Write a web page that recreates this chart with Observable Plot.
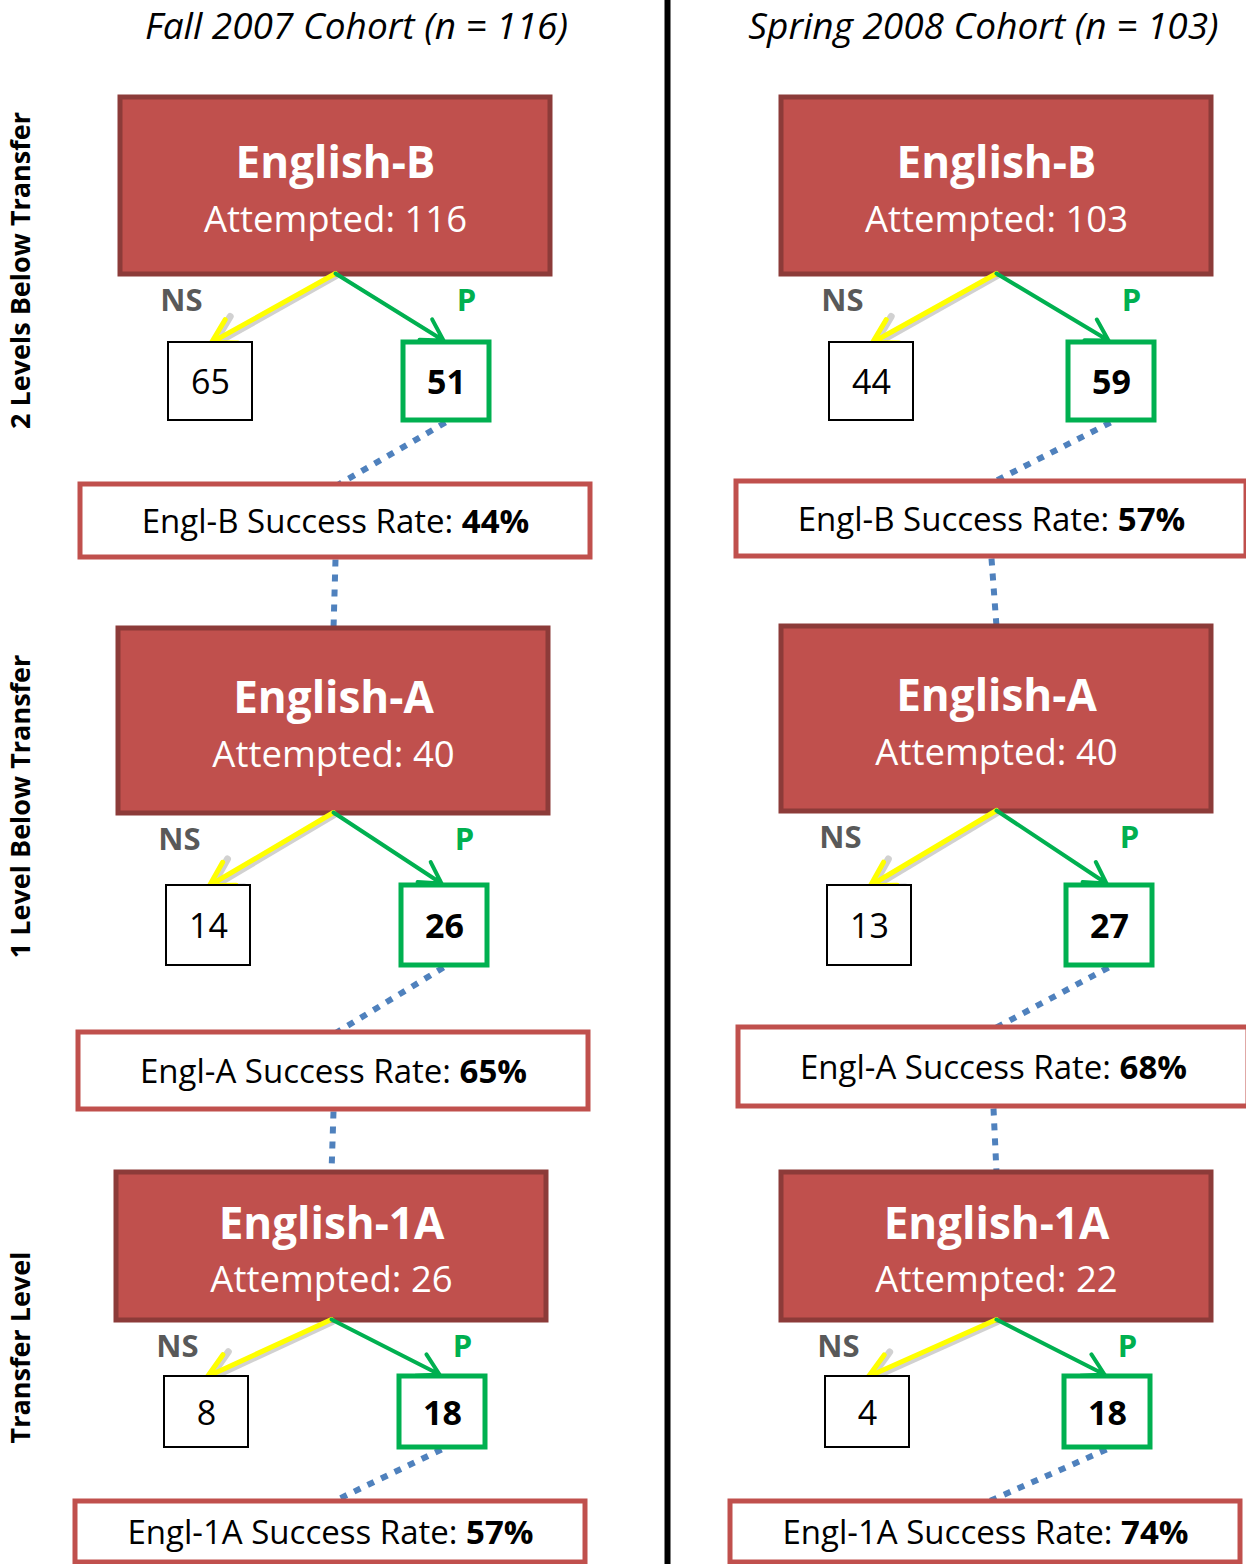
<!DOCTYPE html>
<html>
<head>
<meta charset="utf-8">
<script src="https://cdn.jsdelivr.net/npm/d3@7"></script>
<script src="https://cdn.jsdelivr.net/npm/@observablehq/plot@0.6"></script>
<style>
  html, body { margin: 0; padding: 0; background: white; }
  #chart svg { display: block; }
</style>
</head>
<body>
<div id="chart"></div>
<script>
// ---------- DATA ----------
const cohorts = ["Fall 2007 Cohort (n = 116)", "Spring 2008 Cohort (n = 103)"];
const levels = ["2 Levels Below Transfer", "1 Level Below Transfer", "Transfer Level"];
const courses = ["English-B", "English-A", "English-1A"];
const shortCourses = ["Engl-B", "Engl-A", "Engl-1A"];
const fallAttempted = [116, 40, 26];
const springAttempted = [103, 40, 22];
const fallNotSuccessful = [65, 14, 8];
const springNotSuccessful = [44, 13, 4];
const fallPassed = [51, 26, 18];
const springPassed = [59, 27, 18];
const fallRate = [44, 65, 57];
const springRate = [57, 68, 74];

// ---------- LAYOUT (diagram geometry, separate from data) ----------
const W = 1246, H = 1564;
const layout = [
  [ // left column
    {cx: 335, sCx: 335, top: 97,   bot: 274,  sTop: 342,  sBot: 420,  rTop: 484,  rBot: 557,  rCx: 335},
    {cx: 333, sCx: 333, top: 628,  bot: 813,  sTop: 885,  sBot: 965,  rTop: 1032, rBot: 1109, rCx: 333},
    {cx: 331, sCx: 331, top: 1172, bot: 1320, sTop: 1376, sBot: 1447, rTop: 1501, rBot: 1562, rCx: 330}
  ],
  [ // right column
    {cx: 996, sCx: 996, top: 97,   bot: 274,  sTop: 342,  sBot: 420,  rTop: 481,  rBot: 556,  rCx: 991},
    {cx: 996, sCx: 994, top: 626,  bot: 811,  sTop: 885,  sBot: 965,  rTop: 1027, rBot: 1106, rCx: 993},
    {cx: 996, sCx: 992, top: 1172, bot: 1320, sTop: 1376, sBot: 1447, rTop: 1501, rBot: 1562, rCx: 985}
  ]
];
const titleX = [356, 983];
const levelY = [270, 806, 1347];
const boxHalfW = 215, rateHalfW = 255;
const nsOff = [-167, -83], pOff = [68, 154];

const series = [
  {attempted: fallAttempted, ns: fallNotSuccessful, p: fallPassed, rate: fallRate},
  {attempted: springAttempted, ns: springNotSuccessful, p: springPassed, rate: springRate}
];

const nodes = [];
series.forEach((s, c) => {
  courses.forEach((course, r) => {
    const L = layout[c][r];
    nodes.push({
      c, r, course, short: shortCourses[r],
      attempted: s.attempted[r], ns: s.ns[r], p: s.p[r], rate: s.rate[r],
      ...L,
      pCx: L.sCx + (pOff[0] + pOff[1]) / 2 + (c === 1 ? 4 : 0),
      nsCx: L.sCx + (nsOff[0] + nsOff[1]) / 2,
      next: r < 2 ? layout[c][r + 1] : null
    });
  });
});
const links = nodes.filter(d => d.next);

const FONT = "'Open Sans', 'DejaVu Sans', sans-serif";
const RED = "#C0504D", DARKRED = "#8C3B39", GREEN = "#00B050", BLUE = "#4F81BD";

const chart = Plot.plot({
  width: W, height: H, margin: 0,
  x: {domain: [0, W], range: [0, W], axis: null},
  y: {domain: [0, H], range: [0, H], axis: null},
  style: {fontFamily: FONT, background: "white", overflow: "hidden"},
  marks: [
    // divider
    Plot.ruleX([667], {stroke: "black", strokeWidth: 6}),
    // cohort titles
    Plot.text(cohorts, {x: (d, i) => titleX[i], y: () => 27, text: d => d,
      fontStyle: "italic", fontSize: 37, fill: "black"}),
    // level labels
    Plot.text(levels, {x: () => 21, y: (d, i) => levelY[i], text: d => d,
      rotate: -90, fontWeight: "bold", fontSize: 27, fill: "black"}),
    // dotted connectors
    Plot.link(nodes, {x1: d => d.pCx - 1, y1: d => d.sBot + 2, x2: d => d.rCx + 3, y2: "rTop",
      stroke: BLUE, strokeWidth: 6, strokeDasharray: "7,8"}),
    Plot.link(links, {x1: "rCx", y1: d => d.rBot + 2, x2: d => d.next.cx, y2: d => d.next.top,
      stroke: BLUE, strokeWidth: 6, strokeDasharray: "7,8"}),
    // course boxes
    Plot.rect(nodes, {x1: d => d.cx - boxHalfW, x2: d => d.cx + boxHalfW, y1: "top", y2: "bot",
      fill: RED, stroke: DARKRED, strokeWidth: 5}),
    Plot.text(nodes, {x: "cx", y: d => (d.top + d.bot) / 2 - 22, text: "course",
      fill: "white", fontWeight: "bold", fontSize: 44}),
    Plot.text(nodes, {x: "cx", y: d => (d.top + d.bot) / 2 + 34, text: d => `Attempted: ${d.attempted}`,
      fill: "white", fontSize: 36.5}),
    // arrows
    Plot.arrow(nodes, {x1: d => d.cx + 1, y1: d => d.bot + 1, x2: d => d.nsCx + 3, y2: d => d.sTop + 2,
      stroke: "#999", strokeOpacity: 0.45, strokeWidth: 7, headLength: 7}),
    Plot.arrow(nodes, {x1: "cx", y1: d => d.bot - 1, x2: d => d.nsCx + 1, y2: d => d.sTop,
      stroke: "#FFFF00", strokeWidth: 5, headLength: 8}),
    Plot.arrow(nodes, {x1: "cx", y1: d => d.bot - 1, x2: d => d.pCx - 3, y2: d => d.sTop - 2,
      stroke: GREEN, strokeWidth: 4, headLength: 9}),
    Plot.text(nodes, {x: d => d.nsCx - 29, y: d => d.bot + 27, text: () => "NS",
      fill: "#595959", fontWeight: "bold", fontSize: 31}),
    Plot.text(nodes, {x: d => d.pCx + 20, y: d => d.bot + 27, text: () => "P",
      fill: GREEN, fontWeight: "bold", fontSize: 31}),
    // outcome boxes
    Plot.rect(nodes, {x1: d => d.sCx + nsOff[0], x2: d => d.sCx + nsOff[1], y1: "sTop", y2: "sBot",
      fill: "white", stroke: "black", strokeWidth: 2}),
    Plot.rect(nodes, {x1: d => d.pCx - 43, x2: d => d.pCx + 43, y1: "sTop", y2: "sBot",
      fill: "white", stroke: GREEN, strokeWidth: 5}),
    Plot.text(nodes, {x: "nsCx", y: d => (d.sTop + d.sBot) / 2 + 2, text: d => String(d.ns),
      fill: "black", fontSize: 34}),
    Plot.text(nodes, {x: "pCx", y: d => (d.sTop + d.sBot) / 2 + 2, text: d => String(d.p),
      fill: "black", fontWeight: "bold", fontSize: 34}),
    // success rate boxes
    Plot.rect(nodes, {x1: d => d.rCx - rateHalfW, x2: d => d.rCx + rateHalfW, y1: "rTop", y2: "rBot",
      fill: "white", stroke: RED, strokeWidth: 5}),
    Plot.text(nodes, {x: "rCx", y: d => (d.rTop + d.rBot) / 2 + 1, text: d => `${d.short} Success Rate: ${d.rate}%`,
      fill: "black", fontSize: 33})
  ]
});

// mixed weight: bold percentage
chart.querySelectorAll("text").forEach(t => {
  const m = /^(.* Success Rate: )(\d+%)$/.exec(t.textContent);
  if (m) {
    t.textContent = "";
    const a = document.createElementNS("http://www.w3.org/2000/svg", "tspan");
    a.textContent = m[1];
    const b = document.createElementNS("http://www.w3.org/2000/svg", "tspan");
    b.textContent = m[2];
    b.setAttribute("font-weight", "bold");
    t.appendChild(a); t.appendChild(b);
  }
});

document.getElementById("chart").appendChild(chart);
</script>
</body>
</html>
